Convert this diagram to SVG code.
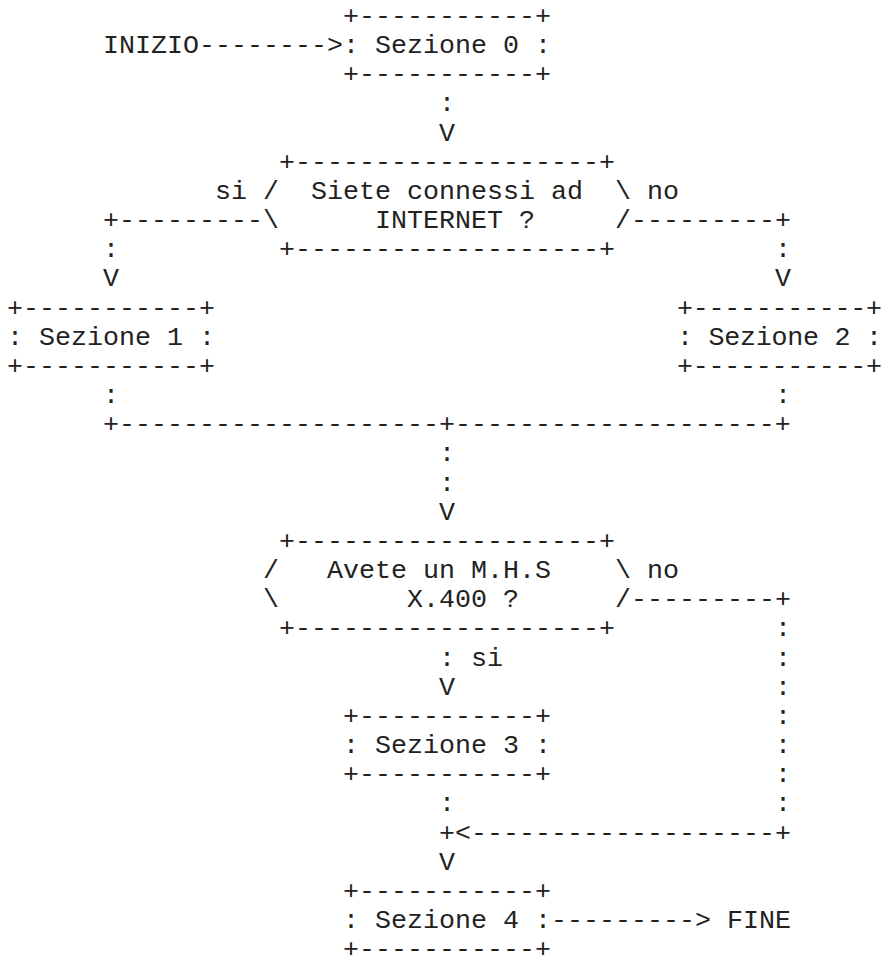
<svg xmlns="http://www.w3.org/2000/svg" width="882" height="958" viewBox="0 0 882 958">
<style>
text{font-family:"Liberation Mono","DejaVu Sans Mono",monospace;font-size:26.667px;fill:#222;white-space:pre}
</style>
<rect width="882" height="958" fill="#fff"/>
<g id="connectors">
<text x="199" y="53">--------&gt;</text>
<text x="439" y="111.3">:</text>
<text x="439" y="140.5">V</text>
<text x="215" y="198.8">si</text>
<text x="647" y="198.8">no</text>
<text x="103" y="228">+---------</text>
<text x="631" y="228">---------+</text>
<text x="103" y="257.2">:</text>
<text x="775" y="257.2">:</text>
<text x="103" y="286.3">V</text>
<text x="775" y="286.3">V</text>
<text x="103" y="403">:</text>
<text x="775" y="403">:</text>
<text x="103" y="432.2">+--------------------+--------------------+</text>
<text x="439" y="461.4">:</text>
<text x="439" y="490.5">:</text>
<text x="439" y="519.7">V</text>
<text x="647" y="578">no</text>
<text x="631" y="607.2">---------+</text>
<text x="775" y="636.4">:</text>
<text x="439" y="665.5">:</text>
<text x="471" y="665.5">si</text>
<text x="775" y="665.5">:</text>
<text x="439" y="694.7">V</text>
<text x="775" y="694.7">:</text>
<text x="775" y="723.9">:</text>
<text x="775" y="753.1">:</text>
<text x="775" y="782.2">:</text>
<text x="439" y="811.4">:</text>
<text x="775" y="811.4">:</text>
<text x="439" y="840.6">+&lt;-------------------+</text>
<text x="439" y="869.7">V</text>
<text x="551" y="928.1">---------&gt;</text>
</g>
<g id="inizio">
<text x="103" y="53">INIZIO</text>
</g>
<g id="sezione0">
<text x="343" y="23.8">+-----------+</text>
<text x="343" y="53">: Sezione 0 :</text>
<text x="343" y="82.1">+-----------+</text>
</g>
<g id="decisione-internet">
<text x="279" y="169.7">+-------------------+</text>
<text x="263" y="198.8">/</text>
<text x="311" y="198.8">Siete connessi ad</text>
<text x="615" y="198.8">\</text>
<text x="263" y="228">\</text>
<text x="375" y="228">INTERNET ?</text>
<text x="615" y="228">/</text>
<text x="279" y="257.2">+-------------------+</text>
</g>
<g id="sezione1">
<text x="7" y="315.5">+-----------+</text>
<text x="7" y="344.7">: Sezione 1 :</text>
<text x="7" y="373.8">+-----------+</text>
</g>
<g id="sezione2">
<text x="677" y="315.5" textLength="205" lengthAdjust="spacing">+-----------+</text>
<text x="677" y="344.7" textLength="205" lengthAdjust="spacing">: Sezione 2 :</text>
<text x="677" y="373.8" textLength="205" lengthAdjust="spacing">+-----------+</text>
</g>
<g id="decisione-x400">
<text x="279" y="548.9">+-------------------+</text>
<text x="263" y="578">/</text>
<text x="327" y="578">Avete un M.H.S</text>
<text x="615" y="578">\</text>
<text x="263" y="607.2">\</text>
<text x="407" y="607.2">X.400 ?</text>
<text x="615" y="607.2">/</text>
<text x="279" y="636.4">+-------------------+</text>
</g>
<g id="sezione3">
<text x="343" y="723.9">+-----------+</text>
<text x="343" y="753.1">: Sezione 3 :</text>
<text x="343" y="782.2">+-----------+</text>
</g>
<g id="sezione4">
<text x="343" y="898.9">+-----------+</text>
<text x="343" y="928.1">: Sezione 4 :</text>
<text x="343" y="957.2">+-----------+</text>
</g>
<g id="fine">
<text x="727" y="928.1">FINE</text>
</g>
</svg>
